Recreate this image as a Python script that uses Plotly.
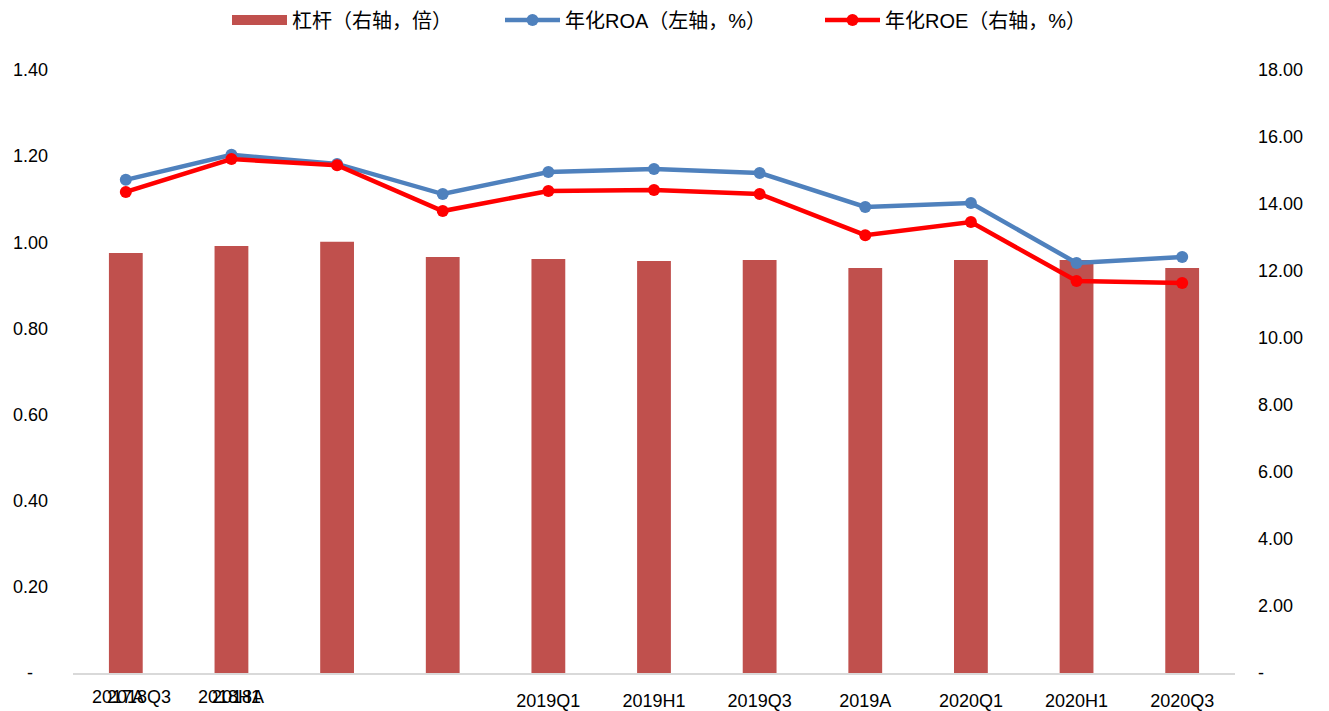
import plotly.graph_objects as go

categories = ["2017A", "2018H1", "2018Q3", "2018A", "2019Q1", "2019H1",
              "2019Q3", "2019A", "2020Q1", "2020H1", "2020Q3"]
tick_labels = ["", "", "", "", "2019Q1", "2019H1", "2019Q3", "2019A",
               "2020Q1", "2020H1", "2020Q3"]
leverage = [12.54, 12.75, 12.87, 12.42, 12.36, 12.30, 12.33, 12.09, 12.33, 12.33, 12.09]
roa = [1.145, 1.203, 1.182, 1.112, 1.163, 1.170, 1.161, 1.082, 1.091, 0.952, 0.966]
roe = [14.36, 15.34, 15.16, 13.79, 14.39, 14.42, 14.30, 13.07, 13.46, 11.70, 11.64]

left_ticks = [0, 0.2, 0.4, 0.6, 0.8, 1.0, 1.2, 1.4]
left_text = ["-\u00a0\u00a0\u00a0"] + [f"{v:.2f}" for v in left_ticks[1:]]
right_ticks = [0, 2, 4, 6, 8, 10, 12, 14, 16, 18]
right_text = ["-"] + [f"{v:.2f}" for v in right_ticks[1:]]

FONT = "Liberation Sans, Arial, Noto Sans CJK SC, sans-serif"
BAR_C = "#C0504D"
ROA_C = "#4F81BD"
ROE_C = "#FF0000"

L, R, T, B = 73, 94, 70, 38
W, H = 1329, 711
PW = W - L - R


def px_to_paper_x(px):
    return (px - L) / PW


fig = go.Figure()
fig.add_trace(go.Bar(x=categories, y=leverage, name="杠杆（右轴，倍）",
                     marker=dict(color=BAR_C, line=dict(width=0)),
                     width=0.32, yaxis="y", showlegend=False))
# legend key for the bars (wide rectangle like the source)
fig.add_trace(go.Scatter(x=[None], y=[None], name="杠杆（右轴，倍）",
                         mode="lines", line=dict(color=BAR_C, width=12),
                         yaxis="y", legend="legend"))
fig.add_trace(go.Scatter(x=categories, y=roa, name="年化ROA（左轴，%）",
                         mode="lines+markers", yaxis="y2",
                         line=dict(color=ROA_C, width=4.5),
                         marker=dict(color=ROA_C, size=12), legend="legend2"))
fig.add_trace(go.Scatter(x=categories, y=roe, name="年化ROE（右轴，%）",
                         mode="lines+markers", yaxis="y3",
                         line=dict(color=ROE_C, width=4.5),
                         marker=dict(color=ROE_C, size=12), legend="legend3"))

# overlapping labels at the first two category positions, as in the source
overlap = [(0, "2017A", "left", -36), (0, "2018Q3", "right", 47),
           (1, "2018H1", "left", -35), (1, "2018A", "right", 35)]
for idx, txt, anc, dx in overlap:
    fig.add_annotation(x=categories[idx], xref="x", y=0, yref="paper",
                       text=txt, showarrow=False, xanchor=anc, yanchor="middle",
                       xshift=dx, yshift=-24,
                       font=dict(family=FONT, size=18, color="#000000"))

leg_common = dict(orientation="h", xref="paper", xanchor="left",
                  yref="container", y=1 - 20 / H, yanchor="middle",
                  font=dict(family=FONT, size=20, color="#000000"),
                  itemwidth=55, bgcolor="rgba(0,0,0,0)", borderwidth=0)

fig.update_layout(
    width=W, height=H,
    margin=dict(l=L, r=R, t=T, b=B, autoexpand=False),
    paper_bgcolor="white", plot_bgcolor="white",
    font=dict(family=FONT, size=18, color="#000000"),
    xaxis=dict(type="category", tickmode="array", tickvals=categories,
               ticktext=tick_labels, showgrid=False, zeroline=False,
               showline=True, linecolor="#D9D9D9", linewidth=2,
               ticks="", ticklabelstandoff=10, range=[-0.5, 10.5],
               automargin=False, tickfont=dict(size=18)),
    yaxis=dict(side="right", range=[0, 18], tickmode="array",
               tickvals=right_ticks, ticktext=right_text, showgrid=False,
               zeroline=False, showline=False, ticks="", automargin=False,
               ticklabelstandoff=22, tickfont=dict(size=18)),
    yaxis2=dict(side="left", overlaying="y", range=[0, 1.4], tickmode="array",
                tickvals=left_ticks, ticktext=left_text, showgrid=False,
                zeroline=False, showline=False, ticks="", automargin=False,
                ticklabelstandoff=24, tickfont=dict(size=18)),
    yaxis3=dict(overlaying="y", range=[0, 18], visible=False),
    legend=dict(x=px_to_paper_x(227), **leg_common),
    legend2=dict(x=px_to_paper_x(500), **leg_common),
    legend3=dict(x=px_to_paper_x(820), **leg_common),
    showlegend=True,
)

fig.write_html("out.html", config={"displayModeBar": False},
               post_script="document.body.style.margin='0';document.body.style.padding='0';")
